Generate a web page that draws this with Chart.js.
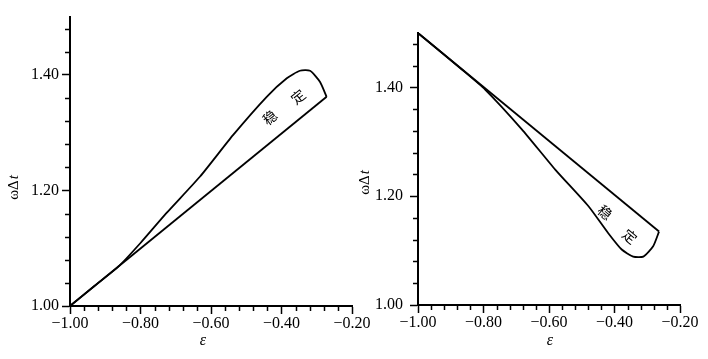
<!DOCTYPE html>
<html>
<head>
<meta charset="utf-8">
<script src="https://cdn.jsdelivr.net/npm/chart.js@4.4.0/dist/chart.umd.min.js"></script>
<style>
body{margin:0;background:#fff;width:708px;height:359px;overflow:hidden;position:relative}
#left{position:absolute;left:0;top:0}
#right{position:absolute;left:355px;top:0}
</style>
</head>
<body>
<canvas id="left" width="400" height="359"></canvas>
<canvas id="right" width="353" height="359"></canvas>
<script>
// Left panel: boundary curve and straight edge
const leftCurveEps = [-1.00, -0.93, -0.863, -0.80, -0.726, -0.631, -0.537, -0.442, -0.385, -0.348, -0.319, -0.291, -0.272];
const leftCurveW   = [1.000, 1.035, 1.068, 1.109, 1.161, 1.224, 1.296, 1.362, 1.394, 1.407, 1.407, 1.388, 1.362];
const leftLineEps  = [-1.00, -0.272];
const leftLineW    = [1.000, 1.362];

// Right panel
const rightCurveEps = [-1.00, -0.93, -0.866, -0.795, -0.683, -0.581, -0.480, -0.419, -0.378, -0.343, -0.312, -0.282, -0.264];
const rightCurveW   = [1.500, 1.465, 1.433, 1.396, 1.323, 1.249, 1.182, 1.132, 1.102, 1.089, 1.089, 1.108, 1.135];
const rightLineEps  = [-1.00, -0.264];
const rightLineW    = [1.500, 1.135];

const xMin = -1.0, xMax = -0.2, yMin = 1.0, yMax = 1.5, tickStep = 0.04, labelStep = 0.2;
const regionText = ['稳', '定'];

const serif = '"Liberation Serif", "DejaVu Serif", serif';

function tickLabel(v) {
  const r = Math.round(v / labelStep) * labelStep;
  if (Math.abs(r - v) > 1e-6) return '';
  return (r < 0 ? '\u2212' : '') + Math.abs(r).toFixed(2);
}

const toPts = (xs, ys) => xs.map((x, i) => ({x: x, y: ys[i]}));

// minor ticks are shorter than the labelled ones
const minorTicks = {
  id: 'minorTicks',
  afterDraw(chart) {
    const ctx = chart.ctx;
    const xs = chart.scales.x, ys = chart.scales.y;
    ctx.save();
    ctx.strokeStyle = '#000';
    ctx.lineWidth = 1.5;
    ctx.beginPath();
    xs.ticks.forEach(t => {
      if (tickLabel(t.value)) return;
      const px = Math.round(xs.getPixelForValue(t.value)) + 0.5;
      ctx.moveTo(px, xs.top);
      ctx.lineTo(px, xs.top + 5);
    });
    ys.ticks.forEach(t => {
      if (tickLabel(t.value)) return;
      const py = Math.round(ys.getPixelForValue(t.value)) + 0.5;
      ctx.moveTo(ys.right, py);
      ctx.lineTo(ys.right - 5, py);
    });
    ctx.stroke();
    ctx.restore();
  }
};

// axis titles and the region label
const textBits = {
  id: 'textBits',
  afterDraw(chart, args, opts) {
    const ctx = chart.ctx;
    const xs = chart.scales.x, ys = chart.scales.y;
    ctx.save();
    ctx.fillStyle = '#000';
    ctx.textBaseline = 'middle';

    // y title, rotated
    ctx.save();
    ctx.translate(opts.yTitleX, opts.yTitleY);
    ctx.rotate(-Math.PI / 2);
    ctx.font = '15px ' + serif;
    const w1 = ctx.measureText('ωΔ').width;
    ctx.font = 'italic 15px ' + serif;
    const w2 = ctx.measureText('t').width;
    ctx.textAlign = 'left';
    ctx.font = '15px ' + serif;
    ctx.fillText('ωΔ', -(w1 + w2) / 2, 0);
    ctx.font = 'italic 15px ' + serif;
    ctx.fillText('t', -(w1 + w2) / 2 + w1 + 1, 0);
    ctx.restore();

    // x title
    ctx.textAlign = 'center';
    ctx.font = 'italic 16px ' + serif;
    ctx.fillText('ε', opts.xTitleX, 341);

    // 稳 定
    ctx.font = '14px "Noto Sans CJK SC"';
    opts.marks.forEach((m, i) => {
      ctx.save();
      ctx.translate(xs.getPixelForValue(m[0]), ys.getPixelForValue(m[1]));
      ctx.rotate(opts.angle * Math.PI / 180);
      ctx.fillText(regionText[i], 0, 0);
      ctx.restore();
    });
    ctx.restore();
  }
};

function makeChart(id, curve, line, box, text) {
  return new Chart(document.getElementById(id), {
    type: 'scatter',
    data: {
      datasets: [
        {data: curve, showLine: true, borderColor: '#000', borderWidth: 1.8, pointRadius: 0, tension: 0.2},
        {data: line, showLine: true, borderColor: '#000', borderWidth: 1.8, pointRadius: 0}
      ]
    },
    options: {
      responsive: false,
      animation: false,
      layout: {padding: {top: box.top, right: box.right, left: 0, bottom: 0}},
      plugins: {legend: {display: false}, tooltip: {enabled: false}, textBits: text},
      scales: {
        x: {
          type: 'linear', min: xMin, max: xMax,
          afterFit: s => { s.height = box.xh; },
          border: {color: '#000', width: 2},
          grid: {
            drawOnChartArea: false, tickLength: 8, tickWidth: 1.5,
            tickColor: c => (c.tick && tickLabel(c.tick.value)) ? '#000' : 'rgba(0,0,0,0)'
          },
          ticks: {
            stepSize: tickStep, autoSkip: false, maxRotation: 0, includeBounds: false,
            padding: 0, color: '#000', font: {family: serif, size: 16},
            callback: v => tickLabel(v)
          }
        },
        y: {
          type: 'linear', min: yMin, max: yMax,
          afterFit: s => { s.width = box.yw; },
          border: {color: '#000', width: 2},
          grid: {
            drawOnChartArea: false, tickLength: 8, tickWidth: 1.5,
            tickColor: c => (c.tick && tickLabel(c.tick.value)) ? '#000' : 'rgba(0,0,0,0)'
          },
          ticks: {
            stepSize: tickStep, autoSkip: false, includeBounds: false,
            padding: box.ypad, color: '#000', font: {family: serif, size: 16},
            callback: v => tickLabel(v)
          }
        }
      }
    },
    plugins: [minorTicks, textBits]
  });
}

makeChart('left', toPts(leftCurveEps, leftCurveW), toPts(leftLineEps, leftLineW),
  {top: 17, right: 48, xh: 53, yw: 70, ypad: 3},
  {yTitleX: 14, yTitleY: 188, xTitleX: 203, angle: -39, marks: [[-0.433, 1.326], [-0.353, 1.362]]});

makeChart('right', toPts(rightCurveEps, rightCurveW), toPts(rightLineEps, rightLineW),
  {top: 33, right: 28, xh: 54, yw: 63, ypad: 7},
  {yTitleX: 10, yTitleY: 183, xTitleX: 195, angle: 40, marks: [[-0.429, 1.170], [-0.353, 1.126]]});
</script>
</body>
</html>
